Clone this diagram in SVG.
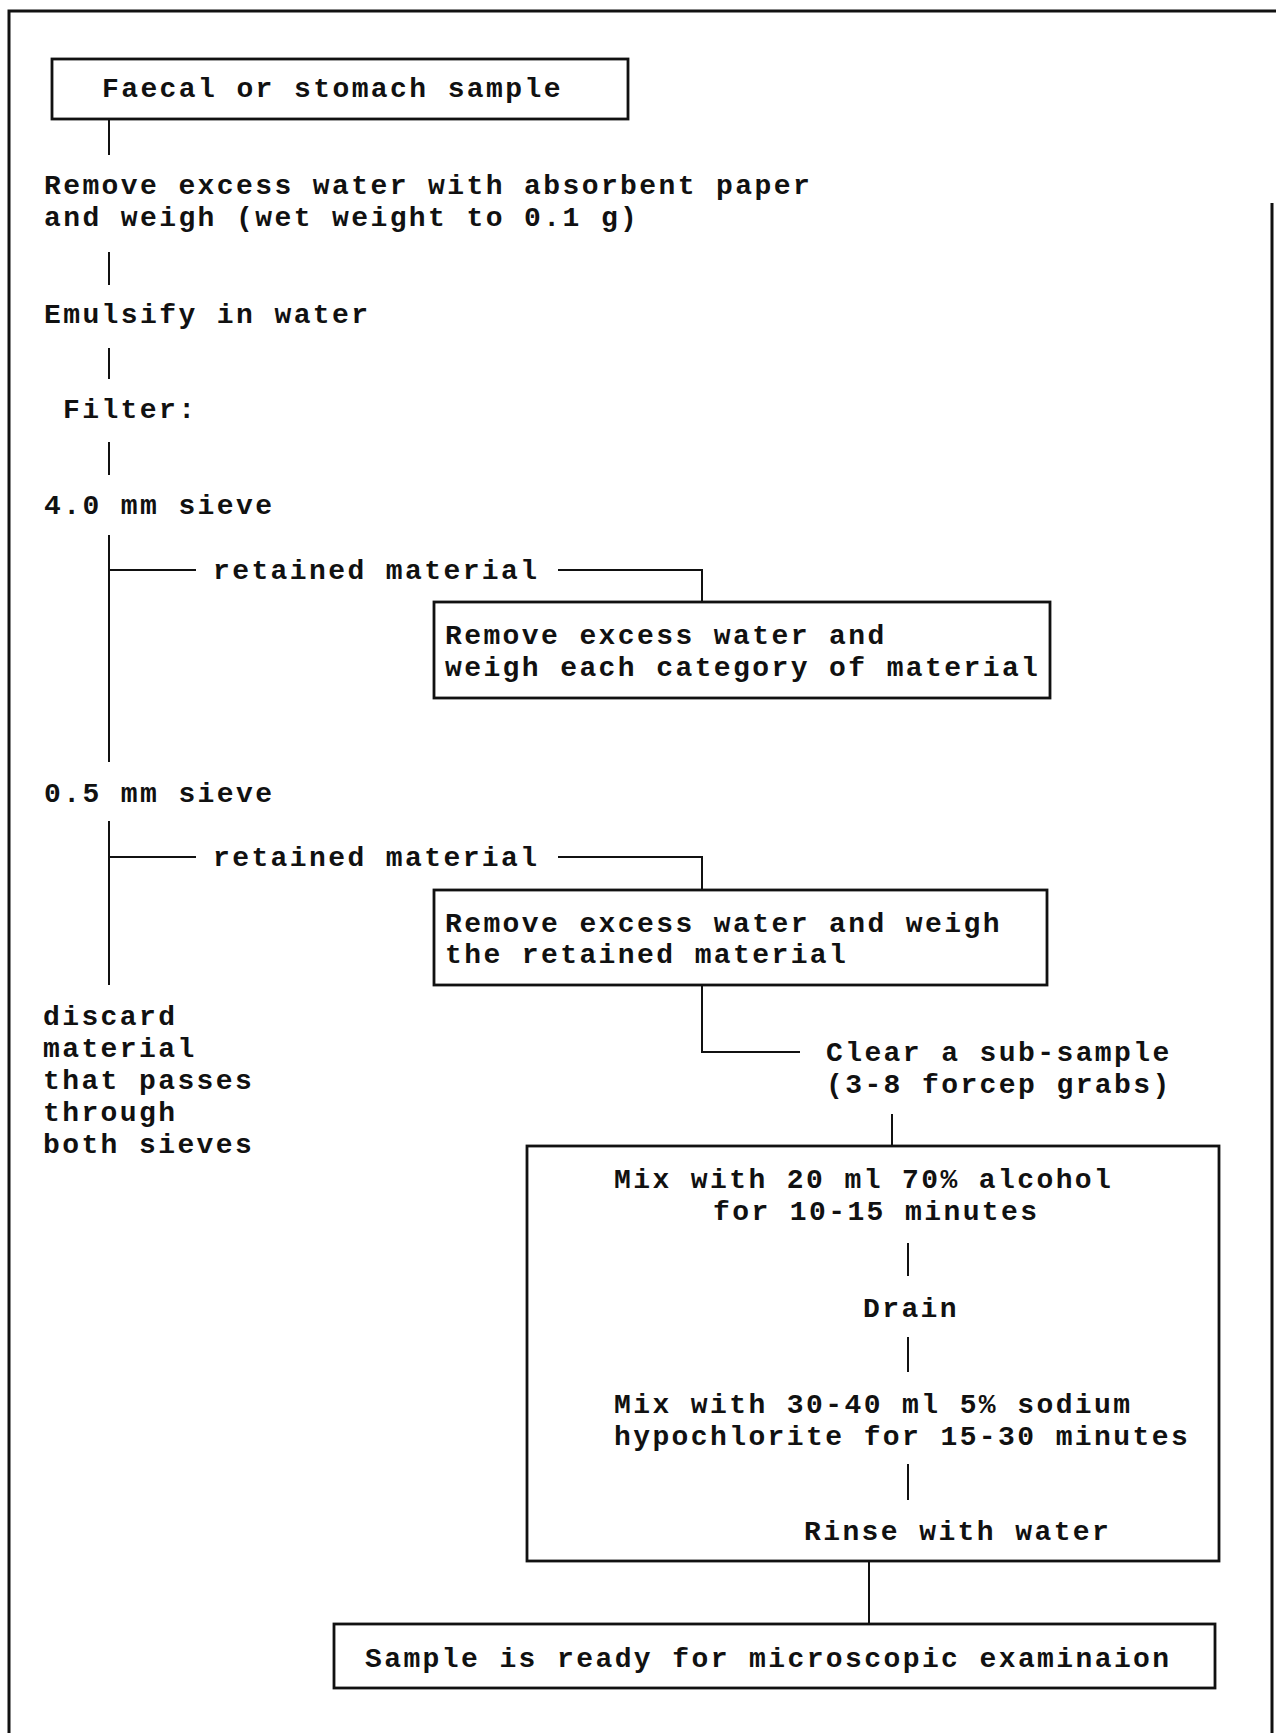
<svg xmlns="http://www.w3.org/2000/svg" width="1276" height="1733" viewBox="0 0 1276 1733">
<style>
text{font-family:"Liberation Mono","Courier New",monospace;font-size:28px;letter-spacing:2.4px;font-weight:bold;fill:#111}
.box{fill:none;stroke:#111;stroke-width:2.8}
.ln{fill:none;stroke:#111;stroke-width:2}
.frame{fill:none;stroke:#111;stroke-width:3}
</style>
<rect x="0" y="0" width="1276" height="1733" fill="#fff"/>
<g id="frame">
<path class="frame" d="M9,1733 V11 H1276"/>
<path class="frame" d="M1272,203 V1733"/>
</g>
<g id="connectors">
<path class="ln" d="M109,119 V155"/>
<path class="ln" d="M109,252 V285"/>
<path class="ln" d="M109,348 V379"/>
<path class="ln" d="M109,442 V475"/>
<path class="ln" d="M109,535 V762"/>
<path class="ln" d="M109,570 H196"/>
<path class="ln" d="M558,570 H702 V602"/>
<path class="ln" d="M109,821 V985"/>
<path class="ln" d="M109,857 H196"/>
<path class="ln" d="M558,857 H702 V890"/>
<path class="ln" d="M702,985 V1052 H800"/>
<path class="ln" d="M892,1114 V1146"/>
<path class="ln" d="M908,1243 V1276"/>
<path class="ln" d="M908,1337 V1372"/>
<path class="ln" d="M908,1464 V1500"/>
<path class="ln" d="M869,1561 V1624"/>
</g>
<g id="n1">
<rect class="box" x="52" y="59" width="576" height="60"/>
<text x="102" y="97">Faecal or stomach sample</text>
</g>
<g id="n2">
<text x="44" y="194">Remove excess water with absorbent paper</text>
<text x="44" y="226">and weigh (wet weight to 0.1 g)</text>
</g>
<g id="n3"><text x="44" y="323">Emulsify in water</text></g>
<g id="n4"><text x="63" y="418">Filter:</text></g>
<g id="n5"><text x="44" y="514">4.0 mm sieve</text></g>
<g id="n6"><text x="213" y="579">retained material</text></g>
<g id="n7">
<rect class="box" x="434" y="602" width="616" height="96"/>
<text x="445" y="644">Remove excess water and</text>
<text x="445" y="676">weigh each category of material</text>
</g>
<g id="n8"><text x="44" y="802">0.5 mm sieve</text></g>
<g id="n9"><text x="213" y="866">retained material</text></g>
<g id="n10">
<rect class="box" x="434" y="890" width="613" height="95"/>
<text x="445" y="932">Remove excess water and weigh</text>
<text x="445" y="963">the retained material</text>
</g>
<g id="n11">
<text x="43" y="1025">discard</text>
<text x="43" y="1057">material</text>
<text x="43" y="1089">that passes</text>
<text x="43" y="1121">through</text>
<text x="43" y="1153">both sieves</text>
</g>
<g id="n12">
<text x="826" y="1061">Clear a sub-sample</text>
<text x="826" y="1093">(3-8 forcep grabs)</text>
</g>
<g id="n13">
<rect class="box" x="527" y="1146" width="692" height="415"/>
<text x="614" y="1188">Mix with 20 ml 70% alcohol</text>
<text x="713" y="1220">for 10-15 minutes</text>
<text x="863" y="1317">Drain</text>
<text x="614" y="1413">Mix with 30-40 ml 5% sodium</text>
<text x="614" y="1445">hypochlorite for 15-30 minutes</text>
<text x="804" y="1540">Rinse with water</text>
</g>
<g id="n14">
<rect class="box" x="334" y="1624" width="881" height="64"/>
<text x="365" y="1667">Sample is ready for microscopic examinaion</text>
</g>
</svg>
